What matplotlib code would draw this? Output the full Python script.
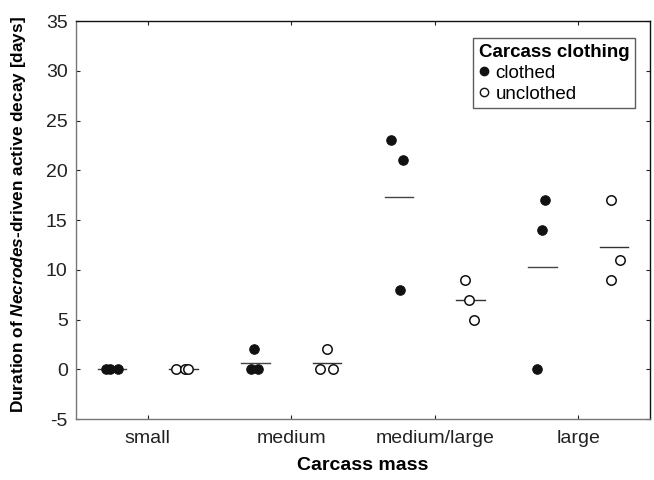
import numpy as np
import matplotlib
matplotlib.use('Agg')
import matplotlib.pyplot as plt
from matplotlib.lines import Line2D

plt.rcParams['font.family'] = ['Liberation Sans', 'DejaVu Sans']
plt.rcParams['axes.unicode_minus'] = False
plt.rcParams['mathtext.fontset'] = 'custom'
plt.rcParams['mathtext.it'] = 'Liberation Sans:italic:bold'
plt.rcParams['mathtext.rm'] = 'Liberation Sans:bold'

# data
categories = ['small', 'medium', 'medium/large', 'large']
clothed = [[0, 0, 0], [2, 0, 0], [23, 21, 8], [17, 14, 0]]
unclothed = [[0, 0, 0], [2, 0, 0], [9, 7, 5], [17, 11, 9]]
# horizontal scatter of the points within each group (x units)
clothed_jitter = [[-0.04, -0.01, 0.04], [-0.01, -0.03, 0.02], [-0.055, 0.03, 0.01], [0.02, 0.0, -0.035]]
unclothed_jitter = [[-0.05, 0.01, 0.03], [0.0, -0.05, 0.04], [-0.04, -0.01, 0.02], [-0.02, 0.04, -0.02]]

fig = plt.figure(figsize=(6.54, 4.80), dpi=100)
ax = fig.add_axes([0.1162, 0.127, 0.8777, 0.829])

pos = np.arange(1, len(categories) + 1)
shift = 0.25
ms = 6.8

for i, p in enumerate(pos):
    # clothed group
    xs = p - shift + np.array(clothed_jitter[i])
    ax.plot(xs, clothed[i], 'o', color='#111111', markersize=ms, markeredgewidth=0.8, zorder=3)
    m = np.mean(clothed[i])
    ax.plot([p - shift - 0.1, p - shift + 0.1], [m, m], color='#444444', lw=1.0, zorder=2)
    # unclothed group
    xs = p + shift + np.array(unclothed_jitter[i])
    ax.plot(xs, unclothed[i], 'o', markerfacecolor='white', markeredgecolor='#111111',
            markersize=ms, markeredgewidth=1.1, zorder=3)
    m = np.mean(unclothed[i])
    ax.plot([p + shift - 0.1, p + shift + 0.1], [m, m], color='#333333', lw=1.0, zorder=2)

ax.set_xlim(0.5, 4.5)
ax.set_ylim(-5, 35)
ax.set_xticks(pos)
ax.set_xticklabels(categories)
ax.set_yticks(np.arange(-5, 36, 5))
ax.tick_params(direction='in', length=3, width=0.8, top=True, right=True,
               labelsize=14, colors='#222222', pad=8)
ax.tick_params(axis='y', pad=6)
for s in ['left', 'bottom']:
    ax.spines[s].set_color('#777777')
for s in ['top', 'right']:
    ax.spines[s].set_color('#111111')
for s in ax.spines.values():
    s.set_linewidth(1.0)

ax.set_xlabel('Carcass mass', fontsize=14, fontweight='bold', labelpad=7)
ax.set_ylabel(r'Duration of $\mathit{Necrodes}$-driven active decay [days]',
              fontsize=12.4, fontweight='bold')
ax.yaxis.set_label_coords(-0.084, 0.515)

handles = [
    Line2D([], [], marker='o', linestyle='none', color='#111111', markersize=6),
    Line2D([], [], marker='o', linestyle='none', markerfacecolor='white',
           markeredgecolor='#111111', markersize=6, markeredgewidth=1.0),
]
leg = ax.legend(handles, ['clothed', 'unclothed'], title='Carcass clothing',
                loc='upper right', bbox_to_anchor=(0.974, 0.957), fontsize=13.5,
                title_fontproperties={'weight': 'bold', 'size': 13.5},
                alignment='left', frameon=True, fancybox=False, edgecolor='#333333',
                handlelength=0.6, handletextpad=0.3, borderpad=0.3,
                labelspacing=0.2, borderaxespad=0)
leg.get_frame().set_linewidth(1.0)

fig.savefig('out.png', dpi=100)
